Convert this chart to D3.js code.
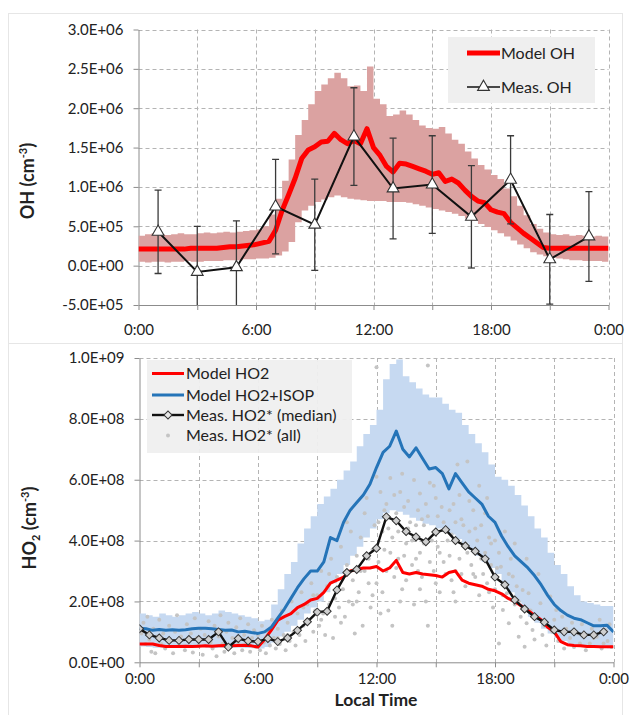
<!DOCTYPE html>
<html>
<head>
<meta charset="utf-8">
<script src="https://cdn.jsdelivr.net/npm/d3@7"></script>
<style>
  html, body { margin: 0; padding: 0; background: #fff; }
  svg { display: block; font-family: Lato, "Open Sans", sans-serif; }
</style>
</head>
<body>
<svg id="chart" width="630" height="715"></svg>
<script>
// ---------------------------------------------------------------
// Diurnal OH and HO2: model vs. measurements
// Model output is on a 20-minute grid (73 values, 0:00 .. 24:00)
// ---------------------------------------------------------------
const MODEL_STEP_H = 20 / 60;
const OH_UNIT = 1e6;   // OH arrays are in 1E+06 cm-3
const HO2_UNIT = 1e8;  // HO2 arrays are in 1E+08 cm-3

// --- OH panel -------------------------------------------------
const ohModel = [
  0.21,0.21,0.21,0.21,0.21,0.21,0.21,0.21,0.22,0.22,0.22,0.22,0.22,0.23,0.24,0.24,0.25,0.26,
  0.27,0.29,0.31,0.45,0.70,0.90,1.11,1.36,1.47,1.51,1.57,1.58,1.68,1.60,1.55,1.59,1.55,1.74,
  1.50,1.40,1.26,1.19,1.30,1.29,1.26,1.23,1.20,1.16,1.18,1.07,1.10,1.05,0.96,0.88,0.82,0.80,
  0.71,0.68,0.66,0.55,0.48,0.41,0.35,0.29,0.23,0.22,0.22,0.22,0.22,0.22,0.22,0.22,0.22,0.22,0.22
];
const ohModelHigh = [
  0.38,0.40,0.41,0.40,0.39,0.40,0.41,0.40,0.40,0.41,0.42,0.41,0.42,0.43,0.42,0.43,0.44,0.45,
  0.46,0.50,0.65,0.85,1.08,1.35,1.66,1.85,2.05,2.22,2.30,2.38,2.45,2.38,2.28,2.29,2.22,2.53,
  2.12,2.05,1.90,1.92,1.97,1.92,1.85,1.78,1.75,1.74,1.76,1.68,1.60,1.55,1.45,1.36,1.28,1.22,
  1.15,1.10,0.98,0.88,0.76,0.64,0.53,0.47,0.42,0.40,0.39,0.40,0.38,0.39,0.38,0.37,0.38,0.37,0.36
];
const ohModelLow = [
  0.05,0.04,0.05,0.05,0.04,0.05,0.05,0.06,0.05,0.05,0.06,0.06,0.06,0.07,0.07,0.07,0.08,0.08,
  0.09,0.09,0.10,0.13,0.18,0.30,0.55,0.70,0.76,0.81,0.84,0.87,0.89,0.87,0.85,0.84,0.83,0.82,
  0.82,0.82,0.81,0.81,0.81,0.80,0.78,0.76,0.74,0.72,0.70,0.68,0.66,0.63,0.60,0.57,0.53,0.49,
  0.45,0.41,0.37,0.32,0.27,0.22,0.17,0.14,0.12,0.10,0.09,0.08,0.07,0.07,0.06,0.06,0.06,0.05,0.05
];
const ohMeasHours = [1, 3, 5, 7, 9, 11, 13, 15, 17, 19, 21, 23];
const ohMeas      = [0.43, -0.08, -0.02, 0.75, 0.52, 1.64, 0.98, 1.03, 0.62, 1.09, 0.08, 0.37];
const ohMeasErr   = [0.53, 0.58, 0.59, 0.60, 0.58, 0.62, 0.64, 0.62, 0.65, 0.56, 0.57, 0.57];

// --- HO2 panel ------------------------------------------------
const ho2Model = [
  0.60,0.60,0.60,0.55,0.52,0.52,0.52,0.53,0.52,0.53,0.54,0.53,0.54,0.55,0.54,0.55,0.56,0.54,
  0.50,0.75,1.05,1.38,1.50,1.60,1.80,1.90,2.05,2.10,2.30,2.60,2.70,2.80,3.00,3.05,3.10,3.10,
  3.15,3.00,3.10,3.35,2.95,2.90,2.95,2.90,2.88,2.85,2.80,2.95,3.00,2.70,2.60,2.55,2.50,2.40,
  2.35,2.25,2.10,2.00,1.85,1.70,1.55,1.40,1.15,1.00,0.68,0.58,0.55,0.54,0.52,0.52,0.51,0.51,0.51
];
const ho2IsopModel = [
  1.12,1.10,1.05,1.08,1.05,1.07,1.05,1.07,1.10,1.12,1.12,1.10,1.08,1.05,1.06,1.00,1.02,0.98,
  0.95,1.00,1.15,1.45,1.75,2.10,2.45,2.75,3.00,3.00,3.30,4.10,4.00,4.60,5.00,5.25,5.50,5.85,
  6.40,6.90,7.10,7.60,7.00,6.75,7.05,6.70,6.35,6.40,6.20,5.70,6.20,5.90,5.60,5.40,5.20,4.80,
  4.60,4.15,3.80,3.50,3.30,3.10,2.85,2.55,2.20,1.90,1.70,1.55,1.45,1.40,1.30,1.20,1.20,1.22,1.00
];
const ho2IsopHigh = [
  1.60,1.55,1.50,1.60,1.55,1.50,1.55,1.60,1.65,1.60,1.55,1.60,1.70,1.65,1.60,1.55,1.50,1.45,
  1.35,1.40,1.90,2.40,2.90,3.30,3.90,4.40,4.80,5.20,5.45,5.70,6.00,6.30,6.60,7.10,7.50,7.80,
  8.30,9.30,9.80,9.95,9.40,9.20,9.00,8.80,8.70,8.70,8.50,8.30,8.20,7.80,7.50,7.20,6.90,6.50,
  6.10,6.00,5.80,5.50,5.15,4.80,4.40,4.10,3.60,3.20,2.90,2.50,2.20,2.00,1.95,1.90,1.85,1.85,1.80
];
const ho2IsopLow = [
  0.52,0.50,0.48,0.48,0.47,0.48,0.50,0.48,0.48,0.50,0.48,0.47,0.48,0.50,0.48,0.48,0.47,0.46,
  0.45,0.50,0.65,0.85,1.00,1.20,1.40,1.60,1.80,2.00,2.30,2.60,2.90,3.20,3.50,3.80,4.10,4.40,
  4.70,4.90,5.00,4.95,4.85,4.75,4.65,4.55,4.50,4.40,4.30,4.20,4.05,3.90,3.70,3.50,3.30,3.10,
  2.90,2.60,2.30,2.00,1.75,1.50,1.30,1.10,0.95,0.80,0.70,0.60,0.55,0.50,0.50,0.48,0.48,0.46,0.45
];
// half-hourly medians, 0:00 .. 23:30
const ho2Median = [
  1.10,0.90,0.80,0.72,0.72,0.75,0.75,0.75,1.00,0.50,0.78,0.70,
  0.68,0.78,0.68,0.80,1.05,1.33,1.65,1.68,2.38,2.95,3.05,3.50,
  3.75,4.78,4.65,4.30,4.12,3.96,4.28,4.36,4.00,3.82,3.65,3.40,
  2.80,2.55,2.05,1.75,1.50,1.32,1.06,1.00,1.00,0.90,0.90,1.00
];
// individual measurements: [local hour, HO2* in 1E+08]
const ho2All = [
  [0.1,0.95],[0.2,1.3],[0.3,0.6],[0.4,1.5],[0.5,0.75],[0.6,0.35],[0.7,1.1],[0.8,0.3],[0.9,0.85],[1.0,1.4],
  [1.1,0.6],[1.2,0.95],[1.3,0.45],[1.5,1.2],[1.6,0.7],[1.7,0.3],[1.8,1.0],[1.9,1.55],[2.0,0.6],[2.1,0.85],
  [2.3,0.4],[2.4,1.25],[2.5,0.7],[2.6,0.95],[2.7,0.32],[2.8,1.45],[2.9,0.8],[3.0,0.55],[3.1,1.1],[3.2,0.25],
  [3.3,0.9],[3.5,1.35],[3.6,0.65],[3.7,0.45],[3.8,1.2],[3.9,0.2],[4.0,0.85],[4.1,1.55],[4.2,0.6],[4.3,0.35],
  [4.4,1.0],[4.5,1.3],[4.6,0.5],[4.7,0.8],[4.8,0.3],[4.9,1.15],[5.0,0.65],[5.1,1.45],[5.2,0.4],[5.3,0.9],
  [5.4,0.7],[5.5,1.25],[5.6,0.35],[5.7,0.8],[5.8,1.05],[5.9,0.5],
  [6.0,0.9],[6.1,0.4],[6.2,1.2],[6.3,0.65],[6.4,0.3],[6.5,1.0],[6.6,0.55],[6.7,1.4],[6.8,0.8],[6.9,0.45],
  [7.0,1.1],[7.0,0.8],[7.1,0.6],[7.2,1.7],[7.3,0.9],[7.4,0.4],[7.5,1.3],[7.5,0.9],[7.6,0.7],[7.7,2.0],
  [7.8,1.0],[7.9,0.55],[8.0,1.6],[8.1,0.9],[8.2,2.3],[8.3,1.2],[8.3,1.8],[8.4,0.7],[8.5,1.9],[8.6,1.4],
  [8.7,2.6],[8.8,1.0],[8.8,2.2],[8.9,1.7],
  [9.0,2.2],[9.1,1.2],[9.2,3.0],[9.2,1.4],[9.3,1.6],[9.4,0.9],[9.5,2.5],[9.6,1.9],[9.6,2.9],[9.7,3.4],
  [9.8,0.8],[9.9,2.1],[9.9,1.5],
  [10.0,2.8],[10.1,1.8],[10.2,3.8],[10.2,1.3],[10.3,2.4],[10.4,1.5],[10.5,3.2],[10.5,4.6],[10.6,2.0],[10.7,4.3],
  [10.8,2.7],[10.8,1.9],[10.9,0.95],[11.0,3.5],[11.0,2.0],[11.1,2.3],[11.2,4.1],[11.2,3.0],[11.3,1.2],[11.4,3.0],
  [11.4,4.9],[11.5,5.4],[11.6,2.6],[11.6,3.4],[11.7,1.8],[11.8,3.7],[11.8,2.2],[11.9,4.5],
  [12.0,6.1],[12.0,2.6],[12.0,9.7],[12.1,3.3],[12.1,4.6],[12.2,1.6],[12.2,5.6],[12.3,2.3],[12.3,4.3],[12.4,5.0],
  [12.4,3.7],[12.5,5.2],[12.5,3.0],[12.6,1.7],[12.6,4.4],[12.7,6.06],[12.7,3.6],[12.8,4.1],[12.8,1.2],[12.9,2.8],
  [12.9,5.5],[13.0,4.9],[13.0,3.1],[13.1,3.4],[13.1,4.3],[13.2,5.6],[13.2,2.0],[13.3,6.2],[13.3,2.4],[13.4,5.1],
  [13.4,3.5],[13.5,3.9],[13.5,2.7],[13.6,4.4],[13.6,5.3],[13.7,4.6],[13.8,3.2],[13.8,4.0],[13.9,5.99],[13.9,1.9],
  [14.0,4.5],[14.0,3.4],[14.1,3.0],[14.1,5.0],[14.2,5.55],[14.2,3.6],[14.2,2.4],[14.3,4.7],[14.3,2.8],[14.4,4.5],
  [14.4,3.9],[14.5,5.2],[14.5,2.0],[14.6,1.2],[14.6,9.75],[14.6,4.8],[14.7,3.3],[14.7,5.9],[14.8,4.0],[14.9,5.8],
  [14.9,3.0],[15.0,2.6],[15.0,5.4],[15.1,3.8],[15.1,4.8],[15.2,3.6],[15.2,2.3],[15.3,5.1],[15.4,4.6],[15.4,3.3],
  [15.5,2.9],[15.6,5.8],[15.6,4.0],[15.7,3.5],[15.7,5.0],[15.8,4.2],[15.8,2.7],[15.9,5.2],[15.9,2.3],[16.0,2.0],
  [16.0,3.0],[16.0,4.6],
  [16.1,6.5],[16.2,3.4],[16.2,5.5],[16.3,4.7],[16.3,2.9],[16.4,4.5],[16.5,2.5],[16.5,3.9],[16.6,6.6],[16.6,3.6],
  [16.7,4.3],[16.7,5.3],[16.8,3.2],[16.9,5.0],[16.9,2.9],[17.0,2.8],[17.0,4.4],[17.1,4.0],[17.2,5.8],[17.2,2.2],
  [17.3,4.5],[17.3,3.4],[17.4,2.9],[17.5,3.6],[17.5,4.9],[17.6,5.4],[17.6,2.6],[17.7,2.3],[17.7,4.1],[17.8,3.2],
  [17.8,3.9],[17.9,1.8],[18.0,4.0],[18.0,2.4],
  [18.1,3.1],[18.2,0.62],[18.2,3.6],[18.3,3.14],[18.4,1.72],[18.4,2.2],[18.5,2.6],[18.5,4.3],[18.6,2.27],[18.7,1.28],
  [18.7,2.9],[18.8,3.4],[18.9,2.82],[19.0,1.9],[19.0,3.9],[19.1,2.5],[19.2,0.84],[19.2,2.0],[19.3,1.5],[19.4,2.38],
  [19.5,0.51],[19.6,1.28],[19.6,3.4],[19.7,2.27],[19.8,1.7],[19.9,1.06],[20.0,0.75],[20.1,1.5],[20.2,2.9],[20.3,1.94],
  [20.4,0.9],[20.5,1.2],[20.6,0.55],[20.8,2.16],[20.9,1.0],[21.0,1.4],[21.1,1.72],[21.2,0.7],[21.4,1.5],[21.5,0.45],
  [21.6,1.1],[21.8,0.8],[21.9,1.3],[22.0,0.5],[22.2,0.95],[22.3,0.62],[22.4,1.25],[22.6,0.4],[22.8,0.62],[22.9,1.1],
  [23.0,0.8],[23.15,0.84],[23.3,1.4],[23.4,0.45],[23.5,0.62],[23.6,1.05],[23.7,0.7],[23.8,1.25],[23.9,0.5]
];

// --- axes ticks -----------------------------------------------
const ohTicks = [-5e5, 0, 5e5, 1e6, 1.5e6, 2e6, 2.5e6, 3e6];
const ho2Ticks = [0, 2e8, 4e8, 6e8, 8e8, 1e9];
const hourTicks = [0, 3, 6, 9, 12, 15, 18, 21, 24];
const hourLabelAt = [0, 6, 12, 18, 24];
const hourLabels = ["0:00", "6:00", "12:00", "18:00", "0:00"];

// ---------------------------------------------------------------
const svg = d3.select("#chart");
const C = {
  red: "#ff0000", pink: "#dba2a1", blue: "#2574b8", lightBlue: "#c6d9f1",
  grid: "#b4b4b4", axis: "#8c8c8c", text: "#222", dots: "#c4c4c4", legendBg: "#efefef"
};
const modelHour = i => i * MODEL_STEP_H;

// Excel-style "0.0E+00" labels
function sci(v) {
  const m = v.toExponential(1).match(/^(-?\d\.\d)e([+-])(\d+)$/);
  return m[1] + "E" + m[2] + m[3].padStart(2, "0");
}
function hourLabel(h) {
  const k = hourLabelAt.indexOf(h);
  return k < 0 ? "" : hourLabels[k];
}

// faint chart-area frames
svg.append("rect").attr("x", 8.5).attr("y", 13.5).attr("width", 614).attr("height", 330)
  .attr("fill", "none").attr("stroke", "#e6e6e6");
svg.append("rect").attr("x", 8.5).attr("y", 343.5).attr("width", 614).attr("height", 380)
  .attr("fill", "none").attr("stroke", "#e6e6e6");

// grid, axes and clip region of one panel
function panel(p) {
  const x = d3.scaleLinear().domain([0, 24]).range([p.left, p.right]);
  const y = d3.scaleLinear().domain(p.yDomain).range([p.bottom, p.top]);
  const g = svg.append("g");

  g.append("g").selectAll("line").data(p.yTicks.filter(v => v > p.yDomain[0])).join("line")
    .attr("x1", p.left).attr("x2", p.right)
    .attr("y1", d => Math.round(y(d)) + 0.5).attr("y2", d => Math.round(y(d)) + 0.5)
    .attr("stroke", C.grid).attr("stroke-dasharray", "4,3");
  g.append("g").selectAll("line").data(hourTicks.filter(h => h > 0)).join("line")
    .attr("x1", d => Math.round(x(d)) + 0.5).attr("x2", d => Math.round(x(d)) + 0.5)
    .attr("y1", p.top).attr("y2", p.bottom)
    .attr("stroke", C.grid).attr("stroke-dasharray", "4,3");

  const ya = g.append("g").attr("transform", `translate(${p.left},0)`)
    .call(d3.axisLeft(y).tickValues(p.yTicks).tickFormat(sci).tickSize(5).tickPadding(10).tickSizeOuter(0));
  const xa = g.append("g").attr("transform", `translate(0,${p.bottom})`)
    .call(d3.axisBottom(x).tickValues(hourTicks).tickFormat(hourLabel).tickSize(5).tickPadding(p.xPad).tickSizeOuter(0));
  [ya, xa].forEach(a => {
    a.select(".domain").attr("stroke", C.axis);
    a.selectAll(".tick line").attr("stroke", C.axis);
    a.selectAll("text").attr("fill", C.text).attr("font-size", 15)
      .attr("font-family", "Lato, 'Open Sans', sans-serif");
  });

  const id = "clip" + p.name;
  svg.append("clipPath").attr("id", id).append("rect")
    .attr("x", p.left).attr("y", p.top).attr("width", p.right - p.left).attr("height", p.bottom - p.top);
  const plot = svg.append("g").attr("clip-path", `url(#${id})`);
  return { x, y, plot };
}

// =============== OH ===============
{
  const { x, y, plot } = panel({
    name: "oh", left: 138.5, right: 608.5, top: 29.5, bottom: 305,
    yDomain: [-5e5, 3e6], yTicks: ohTicks, xPad: 14
  });

  plot.append("path").datum(ohModelHigh)
    .attr("d", d3.area().curve(d3.curveStepAfter)
      .x((d, i) => x(modelHour(i)))
      .y0((d, i) => y(ohModelLow[i] * OH_UNIT))
      .y1(d => y(d * OH_UNIT)))
    .attr("fill", C.pink);

  plot.append("path").datum(ohModel)
    .attr("d", d3.line().x((d, i) => x(modelHour(i))).y(d => y(d * OH_UNIT)))
    .attr("fill", "none").attr("stroke", C.red).attr("stroke-width", 5)
    .attr("stroke-linejoin", "round");

  const meas = ohMeasHours.map((h, i) => ({ h, v: ohMeas[i] * OH_UNIT, e: ohMeasErr[i] * OH_UNIT }));
  const eb = plot.append("g").attr("stroke", "#3a3a3a").attr("stroke-width", 1.3);
  meas.forEach(d => {
    const cx = x(d.h), y1 = y(d.v + d.e), y0 = y(d.v - d.e);
    eb.append("line").attr("x1", cx).attr("x2", cx).attr("y1", y1).attr("y2", y0);
    eb.append("line").attr("x1", cx - 3.5).attr("x2", cx + 3.5).attr("y1", y1).attr("y2", y1);
    eb.append("line").attr("x1", cx - 3.5).attr("x2", cx + 3.5).attr("y1", y0).attr("y2", y0);
  });
  plot.append("path").datum(meas)
    .attr("d", d3.line().x(d => x(d.h)).y(d => y(d.v)))
    .attr("fill", "none").attr("stroke", "#111").attr("stroke-width", 2);
  plot.append("g").selectAll("path").data(meas).join("path")
    .attr("transform", d => `translate(${x(d.h)},${y(d.v)})`)
    .attr("d", d3.symbol(d3.symbolTriangle, 60)())
    .attr("fill", "#fff").attr("stroke", "#333").attr("stroke-width", 1.1);

  // legend
  const lg = svg.append("g");
  lg.append("rect").attr("x", 448).attr("y", 37).attr("width", 147).attr("height", 66).attr("fill", C.legendBg);
  lg.append("line").attr("x1", 467).attr("x2", 500).attr("y1", 53).attr("y2", 53)
    .attr("stroke", C.red).attr("stroke-width", 5);
  lg.append("line").attr("x1", 467).attr("x2", 500).attr("y1", 87).attr("y2", 87)
    .attr("stroke", "#111").attr("stroke-width", 1.6);
  lg.append("path").attr("transform", "translate(483.5,87)").attr("d", d3.symbol(d3.symbolTriangle, 60)())
    .attr("fill", "#fff").attr("stroke", "#333").attr("stroke-width", 1.1);
  lg.append("text").attr("x", 501).attr("y", 53).attr("dy", "0.36em").attr("font-size", 16)
    .attr("fill", C.text).text("Model OH");
  lg.append("text").attr("x", 501).attr("y", 87).attr("dy", "0.36em").attr("font-size", 16)
    .attr("fill", C.text).text("Meas. OH");

  // y title
  const t = svg.append("text").attr("transform", "translate(28,181) rotate(-90)")
    .attr("text-anchor", "middle").attr("dy", "0.36em")
    .attr("font-size", 18).attr("font-weight", "bold").attr("fill", C.text);
  t.append("tspan").text("OH (cm");
  t.append("tspan").attr("font-size", 11).attr("dy", -7).text("-3");
  t.append("tspan").attr("dy", 7).text(")");
}

// =============== HO2 ===============
{
  const { x, y, plot } = panel({
    name: "ho2", left: 139.5, right: 613.5, top: 358, bottom: 662.3,
    yDomain: [0, 1e9], yTicks: ho2Ticks, xPad: 6
  });

  plot.append("path").datum(ho2IsopHigh)
    .attr("d", d3.area().curve(d3.curveStepAfter)
      .x((d, i) => x(modelHour(i)))
      .y0((d, i) => y(ho2IsopLow[i] * HO2_UNIT))
      .y1(d => y(d * HO2_UNIT)))
    .attr("fill", C.lightBlue);

  plot.append("g").selectAll("circle").data(ho2All).join("circle")
    .attr("cx", d => x(d[0])).attr("cy", d => y(d[1] * HO2_UNIT)).attr("r", 2)
    .attr("fill", C.dots);

  const mline = d3.line().x((d, i) => x(modelHour(i))).y(d => y(d * HO2_UNIT));
  plot.append("path").datum(ho2Model).attr("d", mline)
    .attr("fill", "none").attr("stroke", C.red).attr("stroke-width", 3).attr("stroke-linejoin", "round");
  plot.append("path").datum(ho2IsopModel).attr("d", mline)
    .attr("fill", "none").attr("stroke", C.blue).attr("stroke-width", 3).attr("stroke-linejoin", "round");

  const med = ho2Median.map((v, i) => ({ h: i * 0.5, v: v * HO2_UNIT }));
  plot.append("path").datum(med)
    .attr("d", d3.line().x(d => x(d.h)).y(d => y(d.v)))
    .attr("fill", "none").attr("stroke", "#111").attr("stroke-width", 2.4);
  const diamond = d3.symbol(d3.symbolSquare, 32)();
  plot.append("g").selectAll("path").data(med).join("path")
    .attr("transform", d => `translate(${x(d.h)},${y(d.v)}) rotate(45)`)
    .attr("d", diamond).attr("fill", "#cfcfcf").attr("stroke", "#333").attr("stroke-width", 1);

  // legend
  const lg = svg.append("g");
  lg.append("rect").attr("x", 147).attr("y", 360).attr("width", 205).attr("height", 93)
    .attr("fill", C.legendBg).attr("fill-opacity", 0.95);
  const rows = [
    { y: 373.5, label: "Model HO2" },
    { y: 395, label: "Model HO2+ISOP" },
    { y: 415, label: "Meas. HO2* (median)" },
    { y: 435.5, label: "Meas. HO2* (all)" }
  ];
  lg.append("line").attr("x1", 152).attr("x2", 184).attr("y1", rows[0].y).attr("y2", rows[0].y)
    .attr("stroke", C.red).attr("stroke-width", 3);
  lg.append("line").attr("x1", 152).attr("x2", 184).attr("y1", rows[1].y).attr("y2", rows[1].y)
    .attr("stroke", C.blue).attr("stroke-width", 3);
  lg.append("line").attr("x1", 152).attr("x2", 184).attr("y1", rows[2].y).attr("y2", rows[2].y)
    .attr("stroke", "#111").attr("stroke-width", 2.4);
  lg.append("path").attr("transform", `translate(168,${rows[2].y}) rotate(45)`).attr("d", diamond)
    .attr("fill", "#e8e8e8").attr("stroke", "#333").attr("stroke-width", 1);
  lg.append("circle").attr("cx", 168).attr("cy", rows[3].y).attr("r", 2).attr("fill", C.dots);
  lg.selectAll("text").data(rows).join("text")
    .attr("x", 186).attr("y", d => d.y).attr("dy", "0.36em").attr("font-size", 16)
    .attr("fill", C.text).text(d => d.label);

  // y title
  const t = svg.append("text").attr("transform", "translate(29.5,528) rotate(-90)")
    .attr("text-anchor", "middle").attr("dy", "0.36em")
    .attr("font-size", 18).attr("font-weight", "bold").attr("fill", C.text);
  t.append("tspan").text("HO");
  t.append("tspan").attr("font-size", 11).attr("dy", 4).text("2");
  t.append("tspan").attr("dy", -4).text(" (cm");
  t.append("tspan").attr("font-size", 11).attr("dy", -7).text("-3");
  t.append("tspan").attr("dy", 7).text(")");

  svg.append("text").attr("x", 376).attr("y", 705.5).attr("text-anchor", "middle")
    .attr("font-size", 17.5).attr("font-weight", "bold").attr("fill", C.text).text("Local Time");
}
</script>
</body>
</html>
